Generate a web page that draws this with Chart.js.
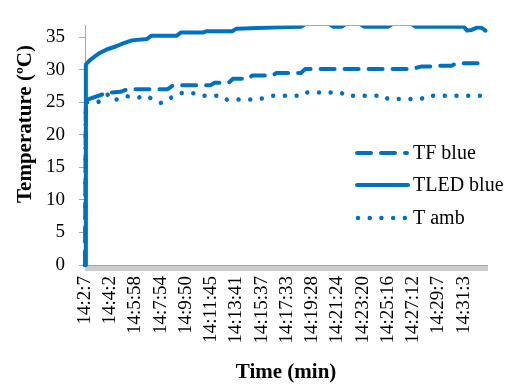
<!DOCTYPE html>
<html>
<head>
<meta charset="utf-8">
<script src="https://cdn.jsdelivr.net/npm/chart.js@4/dist/chart.umd.min.js"></script>
<style>
  html, body { margin: 0; padding: 0; background: #ffffff; }
  #wrap { width: 515px; height: 385px; }
</style>
</head>
<body>
<div id="wrap"><canvas id="c" width="515" height="385"></canvas></div>
<script>
// ---- data (x = sample index, one sample every ~4 s) ----
const timeLabels = ["14:2:7", "14:4:2", "14:5:58", "14:7:54", "14:9:50", "14:11:45", "14:13:41", "14:15:37",
                    "14:17:33", "14:19:28", "14:21:24", "14:23:20", "14:25:16", "14:27:12", "14:29:7", "14:31:3"];
const labelEvery = 29;      // samples between labelled ticks
const sampleCount = 463;    // samples on the category axis

const tfIdx  = [0, 1, 5, 20, 30, 41, 49, 95, 101, 144, 149, 165, 170, 187, 192, 215, 220, 248, 253, 375, 387, 399, 403, 421, 427, 462];
const tfTemp = [0, 25.3, 25.5, 26.2, 26.5, 26.6, 27.0, 27.0, 27.6, 27.6, 28.0, 28.0, 28.6, 28.6, 29.1, 29.1, 29.5, 29.5, 30.1, 30.1, 30.5, 30.5, 30.6, 30.6, 31.0, 31.0];

const tledIdx  = [0, 1, 5, 11, 16, 25, 36, 43, 54, 71, 76, 105, 110, 136, 139, 169, 174, 223, 248, 253, 281, 285, 295, 299, 316, 321, 348, 353, 375, 380, 435, 439, 444, 451, 456, 460];
const tledTemp = [0, 30.8, 31.4, 32.0, 32.5, 33.1, 33.6, 34.0, 34.5, 34.7, 35.2, 35.2, 35.7, 35.7, 35.9, 35.9, 36.3, 36.5, 36.6, 37.0, 37.0, 36.6, 36.6, 37.0, 37.0, 36.6, 36.6, 37.0, 37.0, 36.6, 36.6, 36.0, 36.1, 36.5, 36.4, 36.0];

const tambIdx  = [0, 1, 15, 23, 29, 35, 39, 49, 61, 70, 79, 87, 92, 99, 110, 122, 132, 156, 163, 196, 204, 215, 245, 250, 294, 299, 343, 348, 386, 393, 462];
const tambTemp = [0, 25.0, 25.0, 26.0, 26.3, 25.4, 25.4, 25.9, 25.7, 26.0, 25.4, 24.9, 25.0, 25.7, 26.4, 26.5, 26.0, 26.0, 25.4, 25.4, 25.6, 26.0, 26.0, 26.5, 26.5, 26.0, 26.0, 25.5, 25.5, 26.0, 26.0];

const yTicks = [0, 5, 10, 15, 20, 25, 30, 35];

const BLUE = '#0070C0';
const AXIS = '#a6a6a6';
const FONT = '"Liberation Serif", "Times New Roman", serif';

function pts(xs, ys) { return xs.map((x, i) => ({ x: x, y: ys[i] })); }

const legendPlugin = {
  id: 'customLegend',
  afterDraw(chart) {
    const ctx = chart.ctx;
    const rows = [
      { ds: 0, y: 153, x0: 357, x1: 407 },
      { ds: 1, y: 185, x0: 357, x1: 408 },
      { ds: 2, y: 218, x0: 358, x1: 407 }
    ];
    rows.forEach(r => {
      const d = chart.data.datasets[r.ds];
      ctx.save();
      ctx.strokeStyle = d.borderColor;
      ctx.lineWidth = d.borderWidth;
      ctx.lineCap = d.borderCapStyle || 'butt';
      ctx.setLineDash(d.borderDash || []);
      ctx.beginPath();
      ctx.moveTo(r.x0, r.y);
      ctx.lineTo(r.x1, r.y);
      ctx.stroke();
      ctx.setLineDash([]);
      ctx.fillStyle = '#000';
      ctx.font = '20px ' + FONT;
      ctx.textAlign = 'left';
      ctx.textBaseline = 'middle';
      ctx.fillText(d.label, 413, r.y + 1);
      ctx.restore();
    });
    // y axis title
    ctx.save();
    ctx.translate(26, 124);
    ctx.rotate(-Math.PI / 2);
    ctx.fillStyle = '#000';
    ctx.font = 'bold 21px ' + FONT;
    ctx.textAlign = 'center';
    ctx.textBaseline = 'middle';
    ctx.fillText('Temperature (ºC)', 0, 0);
    ctx.restore();
  }
};

new Chart(document.getElementById('c'), {
  type: 'line',
  data: {
    datasets: [
      { label: 'TF blue', data: pts(tfIdx, tfTemp), borderColor: BLUE, backgroundColor: BLUE,
        borderWidth: 4, borderDash: [14, 10], borderCapStyle: 'round', borderJoinStyle: 'round',
        pointRadius: 0, tension: 0, fill: false, clip: { left: 5, top: 0, right: 5, bottom: 5 } },
      { label: 'TLED blue', data: pts(tledIdx, tledTemp), borderColor: BLUE, backgroundColor: BLUE,
        borderWidth: 4, borderCapStyle: 'round', borderJoinStyle: 'round',
        pointRadius: 0, tension: 0, fill: false, clip: { left: 5, top: 0, right: 5, bottom: 5 } },
      { label: 'T amb', data: pts(tambIdx, tambTemp), borderColor: BLUE, backgroundColor: BLUE,
        borderWidth: 4.5, borderDash: [0.01, 11.7], borderCapStyle: 'round', borderJoinStyle: 'round',
        pointRadius: 0, tension: 0, fill: false, clip: { left: 5, top: 0, right: 5, bottom: 5 } }
    ]
  },
  options: {
    responsive: false,
    animation: false,
    devicePixelRatio: 1,
    layout: { padding: { top: 7, right: 5, left: 0, bottom: 0 } },
    plugins: { legend: { display: false }, tooltip: { enabled: false } },
    scales: {
      x: {
        type: 'linear',
        min: 0,
        max: sampleCount - 1,
        afterBuildTicks: s => { s.ticks = Array.from({ length: sampleCount }, (_, i) => ({ value: i })); },
        afterFit: s => { s.height = 120; },
        ticks: {
          autoSkip: false,
          maxRotation: 90,
          minRotation: 90,
          padding: 5,
          color: '#000',
          font: { family: FONT, size: 19 },
          callback: v => (v % labelEvery === 0 && timeLabels[v / labelEvery] !== undefined) ? timeLabels[v / labelEvery] : ''
        },
        grid: { drawOnChartArea: false, drawTicks: true, tickLength: 6, color: '#cbcbcb', lineWidth: 1 },
        border: { display: true, color: AXIS, width: 1 },
        title: { display: true, text: 'Time (min)', color: '#000',
                 font: { family: FONT, size: 21, weight: 'bold' }, padding: { top: 0, bottom: 0 } }
      },
      y: {
        min: 0,
        max: 36.8,
        afterBuildTicks: s => { s.ticks = yTicks.map(v => ({ value: v })); },
        afterFit: s => { s.width = 85; },
        ticks: { color: '#000', padding: 14, font: { family: FONT, size: 19 } },
        grid: { drawOnChartArea: false, drawTicks: true, tickLength: 6, color: AXIS, lineWidth: 1 },
        border: { display: true, color: AXIS, width: 1 }
      }
    }
  },
  plugins: [legendPlugin]
});
</script>
</body>
</html>
